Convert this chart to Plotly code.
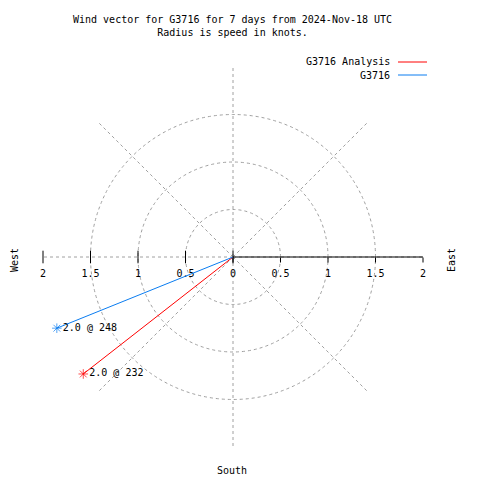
import plotly.graph_objects as go

# data
series_names = ["G3716 Analysis", "G3716"]
speeds = [2.0, 2.0]
directions = [232, 248]
colors = ["#ff0000", "#0a7cf0"]
radial_ticks = [0, 0.5, 1, 1.5, 2]
radial_tick_text = ["0", "0.5", "1", "1.5", "2"]

FONT = "DejaVu Sans Mono"
FS = 10
fig = go.Figure()

# west side tick marks
fig.add_trace(go.Scatterpolar(
    r=radial_ticks, theta=[270] * len(radial_ticks), mode="markers",
    marker=dict(symbol="line-ns-open", size=9, color="black", line=dict(width=1, color="black")),
    showlegend=False, hoverinfo="skip", cliponaxis=False))
# west side labels
fig.add_trace(go.Scatterpolar(
    r=radial_ticks[1:], theta=[270] * (len(radial_ticks) - 1), mode="markers+text",
    marker=dict(size=18, color="rgba(0,0,0,0)"),
    text=radial_tick_text[1:], textposition="bottom center",
    textfont=dict(family=FONT, size=FS, color="black"),
    showlegend=False, hoverinfo="skip", cliponaxis=False))
# east side labels
fig.add_trace(go.Scatterpolar(
    r=radial_ticks, theta=[90] * len(radial_ticks), mode="markers+text",
    marker=dict(size=18, color="rgba(0,0,0,0)"),
    text=radial_tick_text, textposition="bottom center",
    textfont=dict(family=FONT, size=FS, color="black"),
    showlegend=False, hoverinfo="skip", cliponaxis=False))

for name, s, d, c in zip(series_names, speeds, directions, colors):
    fig.add_trace(go.Scatterpolar(
        r=[0, s], theta=[d, d], mode="lines+markers+text",
        line=dict(color=c, width=1),
        marker=dict(symbol="asterisk-open", size=[0, 8], color=c, line=dict(color=c, width=1)),
        text=["", f"{s:.1f} @ {d}"], textposition="middle right",
        textfont=dict(family=FONT, size=FS, color="black"),
        name=name, showlegend=False, cliponaxis=False))

cx, cy, R = 233, 257, 190
W = H = 480
fig.update_layout(
    width=W, height=H, margin=dict(l=0, r=0, t=0, b=0),
    paper_bgcolor="white", plot_bgcolor="white",
    font=dict(family=FONT, size=FS, color="black"),
    polar=dict(
        domain=dict(x=[(cx - R) / W, (cx + R) / W], y=[1 - (cy + R) / H, 1 - (cy - R) / H]),
        bgcolor="white",
        angularaxis=dict(rotation=90, direction="clockwise", dtick=45,
                         showticklabels=False, ticks="", showline=False,
                         gridcolor="#a0a0a0", griddash="3px,3px", gridwidth=1),
        radialaxis=dict(range=[0, 2], tickvals=radial_ticks, showticklabels=False,
                        angle=0, showline=True, linecolor="black", linewidth=1,
                        ticks="outside", ticklen=5, tickcolor="black",
                        gridcolor="#a0a0a0", griddash="3px,3px", gridwidth=1),
    ),
    showlegend=False,
)

anns = [
    dict(x=232 / W, y=1 - 26 / H, text="Wind vector for G3716 for 7 days from 2024-Nov-18 UTC<br>Radius is speed in knots.",
         showarrow=False, xanchor="center", yanchor="middle", font=dict(family=FONT, size=FS)),
    dict(x=232 / W, y=1 - 470 / H, text="South", showarrow=False, xanchor="center", yanchor="middle"),
    dict(x=14 / W, y=1 - 260 / H, text="West", showarrow=False, textangle=-90, xanchor="center", yanchor="middle"),
    dict(x=451 / W, y=1 - 260 / H, text="East", showarrow=False, textangle=-90, xanchor="center", yanchor="middle"),
]
shapes = []
for i, (name, c) in enumerate(zip(series_names, colors)):
    y = 62 + 13 * i
    anns.append(dict(x=392 / W, y=1 - y / H, text=name, showarrow=False, xanchor="right", yanchor="middle"))
    shapes.append(dict(type="line", xref="paper", yref="paper", x0=398 / W, x1=427 / W,
                       y0=1 - y / H, y1=1 - y / H, line=dict(color=c, width=1)))
for a in anns:
    a.update(xref="paper", yref="paper")
fig.update_layout(annotations=anns, shapes=shapes)

fig.write_html("out.html", post_script="document.body.style.margin='0px';",
               config={"displayModeBar": False})
